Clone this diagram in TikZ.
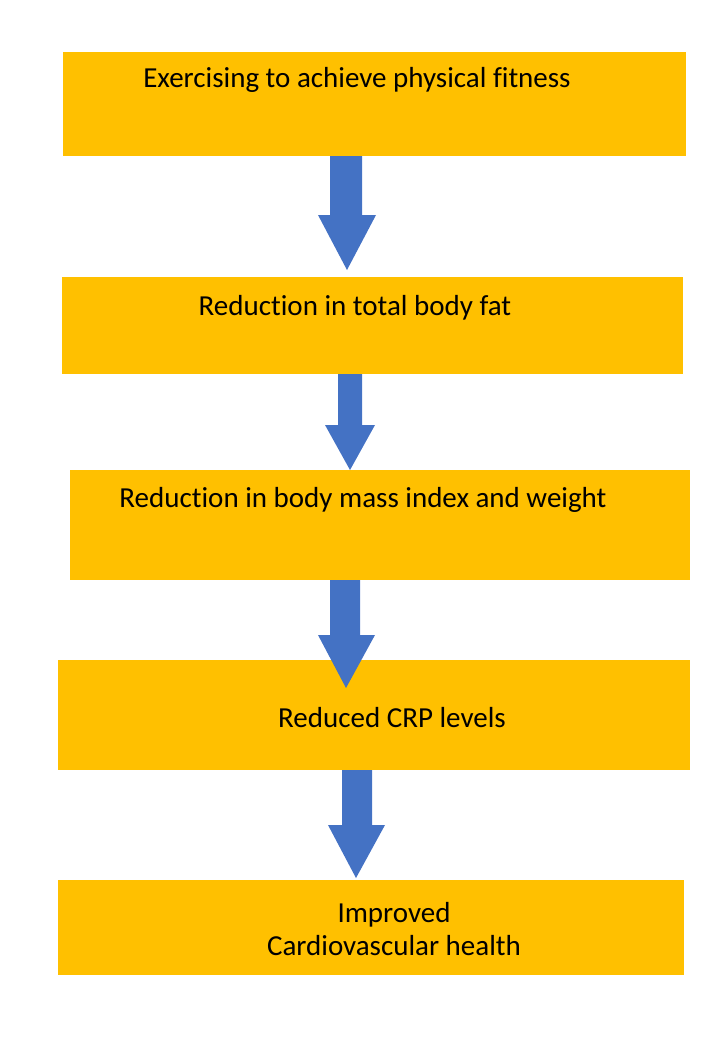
\documentclass[tikz,border=0pt]{standalone}
\usepackage{fontspec}
\setmainfont{Carlito}[Ligatures={NoCommon}]
\definecolor{gold}{HTML}{FFC000}
\definecolor{arrowblue}{HTML}{4472C4}
\begin{document}
\begin{tikzpicture}[x=1pt,y=-1pt,
  box/.style={fill=gold,draw=none},
  lbl/.style={font=\fontsize{29}{33}\selectfont,anchor=center,align=center,text=black},
  darrow/.style={fill=arrowblue,draw=none}]
\useasboundingbox (0,0) rectangle (712,1041);
\fill[box] (63,52) rectangle (686,156);
\fill[box] (62,277) rectangle (683,374);
\fill[box] (70,470) rectangle (690,580);
\fill[box] (58,660) rectangle (690,770);
\fill[box] (58,880) rectangle (684,975);
\node[lbl] (t1) at (357,80) {Exercising to achieve physical fitness};
\node[lbl] (t2) at (355,308) {Reduction in total body fat};
\node[lbl] (t3) at (363,500) {Reduction in body mass index and weight};
\node[lbl] (t4) at (392,718) {Reduced CRP levels};
\node[lbl] (t5) at (394,929) {Improved\\Cardiovascular health};
\fill[darrow] (330,156) -- (362,156) -- (362,215) -- (376,215) -- (347,270) -- (318,215) -- (330,215) -- cycle;
\fill[darrow] (338,374) -- (362,374) -- (362,425) -- (375,425) -- (350,470) -- (325,425) -- (338,425) -- cycle;
\fill[darrow] (330,580) -- (360,580) -- (360,635) -- (375,635) -- (346,688) -- (318,635) -- (330,635) -- cycle;
\fill[darrow] (342,770) -- (372,770) -- (372,825) -- (385,825) -- (356,878) -- (328,825) -- (342,825) -- cycle;
\end{tikzpicture}
\end{document}
